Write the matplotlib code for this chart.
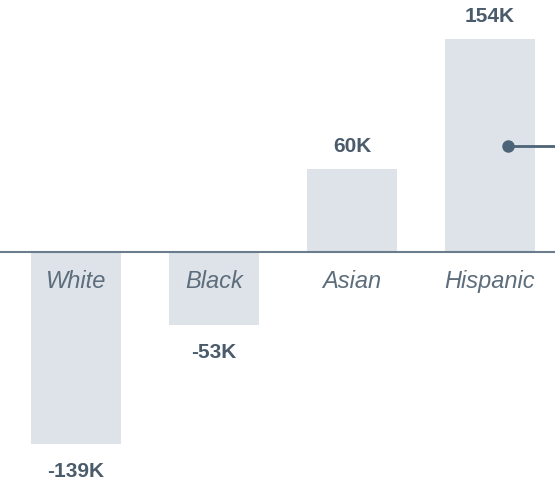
import matplotlib.pyplot as plt

categories = ['White', 'Black', 'Asian', 'Hispanic']
values = [-139, -53, 60, 154]  # thousands
value_labels = ['-139K', '-53K', '60K', '154K']

bar_color = '#dde3e8'
text_color = '#4a5b6b'
cat_color = '#5d6d7c'
axis_color = '#6b7c8c'
marker_color = '#4d6478'

plt.rcParams['font.family'] = ['Liberation Sans', 'DejaVu Sans']

fig = plt.figure(figsize=(5.55, 4.82), dpi=100)
ax = fig.add_axes([0, 0, 1, 1])

x = list(range(len(categories)))
ax.bar(x, values, width=0.655, color=bar_color, zorder=1)
ax.axhline(0, color=axis_color, lw=1.5, zorder=2)

for xi, v, lab, cat in zip(x, values, value_labels, categories):
    if v >= 0:
        ax.annotate(lab, (xi, v), xytext=(0, 16.5), textcoords='offset points',
                    ha='center', va='center', fontsize=15, fontweight='bold',
                    color=text_color)
    else:
        ax.annotate(lab, (xi, v), xytext=(0, -20), textcoords='offset points',
                    ha='center', va='center', fontsize=15, fontweight='bold',
                    color=text_color)
    ax.annotate(cat, (xi, 0), xytext=(0, -21.2), textcoords='offset points',
                ha='center', va='center', fontsize=17, fontstyle='italic',
                color=cat_color)

# callout marker on the Hispanic bar
hx = x[3] + 0.13
hy = values[3] / 2
ax.plot([hx, 4.0], [hy, hy], color=marker_color, lw=2, zorder=3, solid_capstyle='butt')
ax.plot([hx], [hy], 'o', color=marker_color, ms=8, zorder=4)

ax.set_xlim(-0.551, 3.471)
ax.set_ylim(-166.7, 182.6)
ax.axis('off')

fig.savefig('out.png', dpi=100)
